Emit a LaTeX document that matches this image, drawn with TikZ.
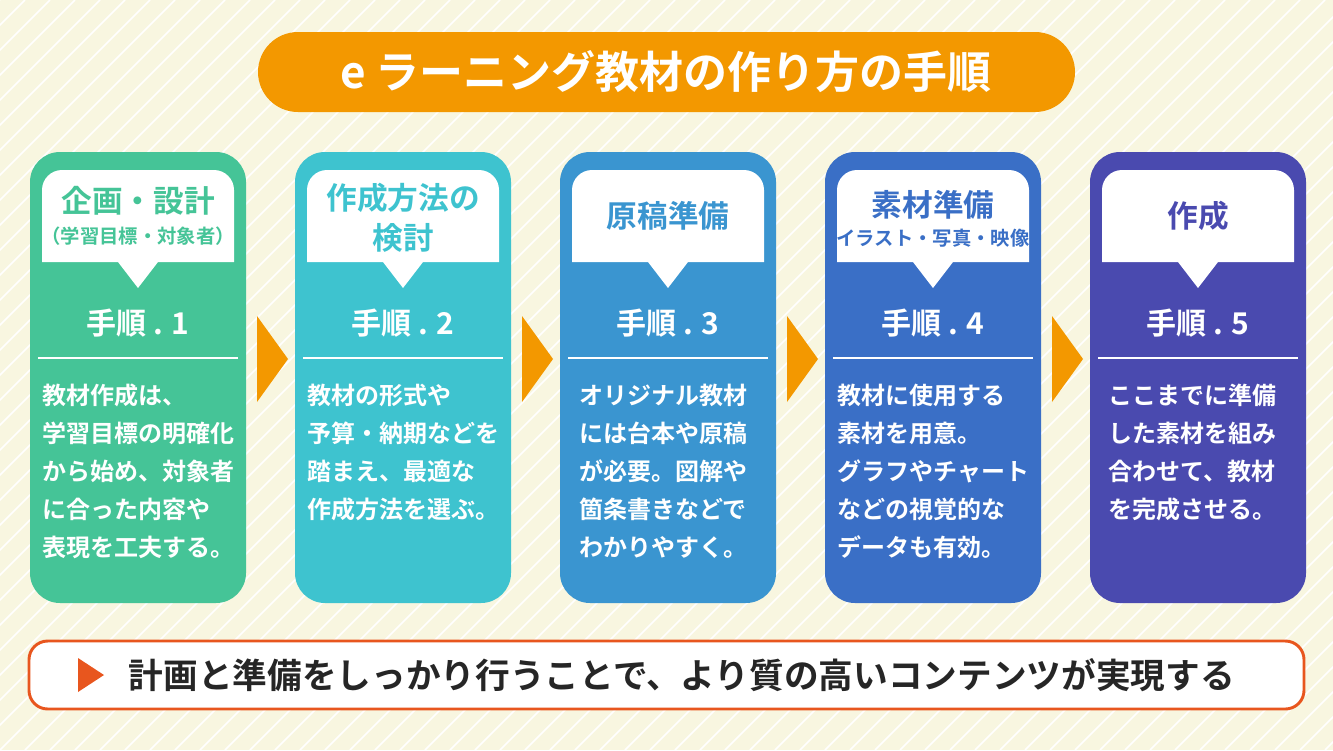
\documentclass[tikz,border=0pt]{standalone}
\usepackage{fontspec}
\setmainfont{Noto Sans CJK JP}[BoldFont={* Bold}]
\newfontfamily\jpb{Noto Sans CJK JP Bold}
\begin{document}
\begin{tikzpicture}[x=0.75pt,y=-0.75pt,
  card/.style={rounded corners=22.5pt},
  ttl/.style={font=\jpb\fontsize{22.5}{26}\selectfont,text=white},
  lbl/.style={font=\jpb\fontsize{23}{30}\selectfont,align=center},
  sub/.style={font=\jpb\fontsize{14.5}{16}\selectfont},
  body/.style={font=\jpb\fontsize{18}{28.5}\selectfont,text=white,align=left,anchor=north west,inner sep=0pt}]
\definecolor{bg}{HTML}{F8F6E0}
\definecolor{orng}{HTML}{F39800}
\definecolor{red}{HTML}{E8561E}
\definecolor{c1}{HTML}{45C497}
\definecolor{c2}{HTML}{3EC3CF}
\definecolor{c3}{HTML}{3A95D0}
\definecolor{c4}{HTML}{3A6FC6}
\definecolor{c5}{HTML}{4A4AAF}
\fill[bg] (0,0) rectangle (1333,750);
\useasboundingbox (0,0) rectangle (1333,750);
\begin{scope}
\clip (0,0) rectangle (1333,750);
\foreach \i in {0,...,90}{\draw[white,line width=1.2pt] (\i*25-750,750) -- (\i*25,0);}
\end{scope}
\fill[orng,rounded corners=30pt] (258,32) rectangle (1075,112);
\node[font=\jpb\fontsize{33}{36}\selectfont,text=white] (title) at (666,72) {e ラーニング教材の作り方の手順};
\foreach \k/\c/\n in {0/c1/1,1/c2/2,2/c3/3,3/c4/4,4/c5/5}{
  \pgfmathsetmacro\xa{30+265*\k}
  \fill[\c,card] (\xa,152) rectangle ++(216,451);
  \fill[white] (\xa+12,262) -- (\xa+12,190) arc[start angle=180,end angle=90,radius=15pt] -- (\xa+184,170) arc[start angle=90,end angle=0,radius=15pt] -- (\xa+204,262) -- (\xa+128,262) -- (\xa+108,288) -- (\xa+88,262) -- cycle;
  \node[ttl] (step\n) at (\xa+108,323) {手順 . \n};
  \draw[white,line width=1.2pt] (\xa+8,358) -- (\xa+208,358);
}
\foreach \k in {0,...,3}{
  \pgfmathsetmacro\xa{257+265*\k}
  \fill[orng] (\xa,316) -- (\xa+31,359) -- (\xa,402) -- cycle;
}
\node[lbl,text=c1] (l1) at (138,201) {企画・設計};
\node[sub,text=c1] (s1) at (138,236) {（学習目標・対象者）};
\node[lbl,text=c2] (l2) at (403,218) {作成方法の\\検討};
\node[lbl,text=c3] (l3) at (668,216) {原稿準備};
\node[lbl,text=c4] (l4) at (933,205) {素材準備};
\node[sub,text=c4] (s4) at (933,238) {（イラスト・写真・映像）};
\node[lbl,text=c5] (l5) at (1198,216) {作成};
\node[body] (b1) at (42,384) {教材作成は、\\学習目標の明確化\\から始め、対象者\\に合った内容や\\表現を工夫する。};
\node[body] (b2) at (307,384) {教材の形式や\\予算・納期などを\\踏まえ、最適な\\作成方法を選ぶ。};
\node[body] (b3) at (579,384) {オリジナル教材\\には台本や原稿\\が必要。図解や\\箇条書きなどで\\わかりやすく。};
\node[body] (b4) at (837,384) {教材に使用する\\素材を用意。\\グラフやチャート\\などの視覚的な\\データも有効。};
\node[body] (b5) at (1108,384) {ここまでに準備\\した素材を組み\\合わせて、教材\\を完成させる。};
\draw[red,fill=white,line width=2.2pt,rounded corners=14pt] (29,641) rectangle (1304,709);
\fill[red] (78,658) -- (104,675) -- (78,692) -- cycle;
\node[font=\jpb\fontsize{26}{28}\selectfont,text=black!85,anchor=west] (msg) at (124,675) {計画と準備をしっかり行うことで、より質の高いコンテンツが実現する};
\end{tikzpicture}
\end{document}
